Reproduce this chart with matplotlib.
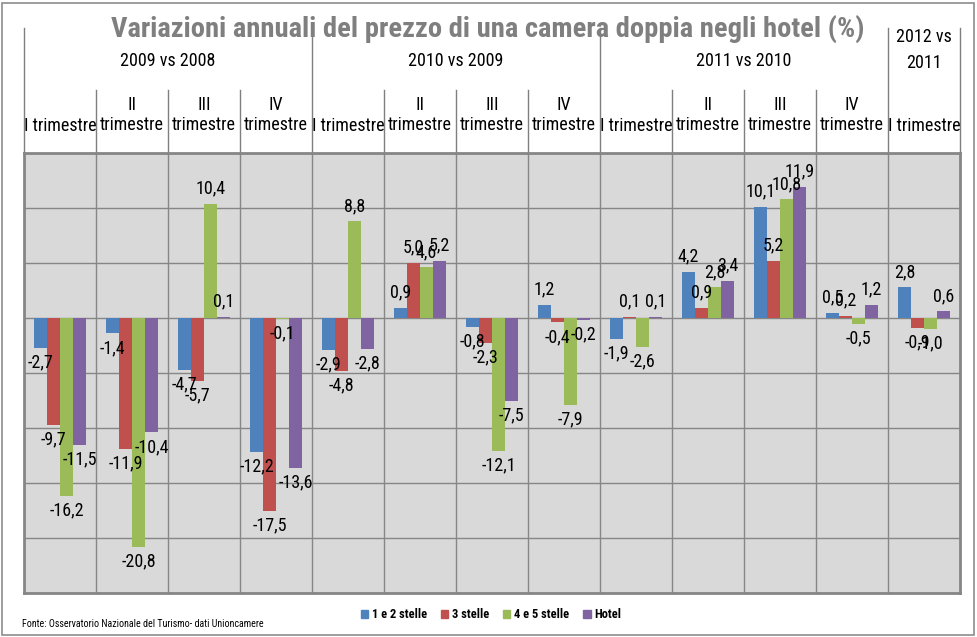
import numpy as np
import matplotlib
matplotlib.use('Agg')
import matplotlib.pyplot as plt
from matplotlib.patches import Patch, Rectangle
from matplotlib.lines import Line2D

plt.rcParams['font.family'] = ['Roboto Condensed', 'Liberation Sans Narrow', 'Open Sans Condensed',
                               'DejaVu Sans Condensed', 'Liberation Sans', 'DejaVu Sans']
plt.rcParams['font.stretch'] = 'condensed'

###dati
trimestri = ['I trimestre', 'II\ntrimestre', 'III\ntrimestre', 'IV\ntrimestre',
             'I trimestre', 'II\ntrimestre', 'III\ntrimestre', 'IV\ntrimestre',
             'I trimestre', 'II\ntrimestre', 'III\ntrimestre', 'IV\ntrimestre',
             'I trimestre']
anni = ['2009 vs 2008', '2010 vs 2009', '2011 vs 2010', '2012 vs\n2011']
anni_n = [4, 4, 4, 1]   # trimestri per gruppo
serie = ['1 e 2 stelle', '3 stelle', '4 e 5 stelle', 'Hotel']
stelle_12 = [-2.7, -1.4, -4.7, -12.2, -2.9, 0.9, -0.8, 1.2, -1.9, 4.2, 10.1, 0.5, 2.8]
stelle_3 = [-9.7, -11.9, -5.7, -17.5, -4.8, 5.0, -2.3, -0.4, 0.1, 0.9, 5.2, 0.2, -0.9]
stelle_45 = [-16.2, -20.8, 10.4, -0.1, 8.8, 4.6, -12.1, -7.9, -2.6, 2.8, 10.8, -0.5, -1.0]
hotel = [-11.5, -10.4, 0.1, -13.6, -2.8, 5.2, -7.5, -0.2, 0.1, 3.4, 11.9, 1.2, 0.6]
colori = ['#4F81BD', '#C0504D', '#9BBB59', '#8064A2']

W, H = 977, 637
fig = plt.figure(figsize=(W/100, H/100), dpi=100)
fig.patches.append(Rectangle((2/W, 2/H), 1-5/W, 1-5/H, transform=fig.transFigure,
                             fill=False, ec='#8c8c8c', lw=1.2))

# area del grafico in pixel
x0, x1, ytop, ybot = 24, 960, 153, 593
ax = fig.add_axes([x0/W, 1-ybot/H, (x1-x0)/W, (ybot-ytop)/H])
ax.set_facecolor('#d9d9d9')
n = len(trimestri)
ax.set_xlim(0, n)
ax.set_ylim(-25, 15)
ax.set_xticks(np.arange(0, n+1))
ax.set_yticks(np.arange(-25, 16, 5))
ax.grid(True, color='#868686', lw=1)
ax.set_axisbelow(True)
ax.tick_params(length=0, labelbottom=False, labelleft=False)
for s in ax.spines.values():
    s.set_color('#868686')
    s.set_linewidth(2)

bw = 13/72
for j, vals in enumerate([stelle_12, stelle_3, stelle_45, hotel]):
    xs = np.arange(n) + (10 + 6.5 + 13*j)/72
    bars = ax.bar(xs, vals, width=bw, color=colori[j], label=serie[j], zorder=3)
    for b, v in zip(bars, vals):
        lab = ('%.1f' % v).replace('.', ',')
        if v >= 0:
            ax.annotate(lab, (b.get_x()+bw/2, v), xytext=(0, 4.5), textcoords='offset points',
                        ha='center', va='bottom', fontsize=13, zorder=4)
        else:
            ax.annotate(lab, (b.get_x()+bw/2, v), xytext=(0, -4), textcoords='offset points',
                        ha='center', va='top', fontsize=13, zorder=4)

###intestazione
def fy(py):
    # pixel y -> coordinate asse (frazione)
    return 1 + (ytop - py)/(ybot - ytop)

tr = ax.get_xaxis_transform()
gruppi = np.concatenate([[0], np.cumsum(anni_n)])
for k in range(n+1):
    top = 28 if k in gruppi else 90
    ax.add_line(Line2D([k, k], [1, fy(top)], transform=tr, color='#7f7f7f', lw=1, clip_on=False))

for i, t in enumerate(trimestri):
    yc = 126 if '\n' not in t else 115
    ax.text(i+0.5, fy(yc), t, transform=tr, ha='center', va='center', fontsize=13)

for g, a in enumerate(anni):
    xc = (gruppi[g] + gruppi[g+1])/2
    if '\n' in a:
        ax.text(xc, fy(50), a, transform=tr, ha='center', va='center', fontsize=13, linespacing=1.5)
    else:
        ax.text(xc, fy(61), a, transform=tr, ha='center', va='center', fontsize=13)

fig.text(488/W, 1-29/H, 'Variazioni annuali del prezzo di una camera doppia negli hotel (%)',
         ha='center', va='center', fontsize=20.5, fontweight='bold', color='#7f7f7f')

handles = [Patch(color=c, label=s) for c, s in zip(colori, serie)]
fig.legend(handles=handles, loc='center', bbox_to_anchor=(491/W, 1-615/H), ncol=4, frameon=False,
           handlelength=0.6, handleheight=0.6, handletextpad=0.3, columnspacing=1.1,
           prop={'weight': 'bold', 'size': 9})

fig.text(22/W, 1-624/H, 'Fonte: Osservatorio Nazionale del Turismo- dati Unioncamere',
         ha='left', va='center', fontsize=7.2)

plt.savefig('out.png', dpi=100)
